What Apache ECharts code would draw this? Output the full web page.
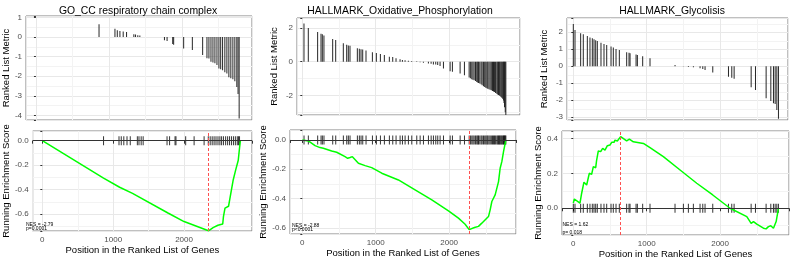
<!DOCTYPE html>
<html>
<head>
<meta charset="utf-8">
<script src="https://cdn.jsdelivr.net/npm/echarts@6/dist/echarts.min.js"></script>
<style>
html, body { margin: 0; padding: 0; background: #fff; }
#root { width: 796px; height: 260px; }
</style>
</head>
<body>
<div id="root"></div>
<script>
// GO_CC respiratory chain complex
const goHits = [864, 1082, 1114, 1150, 1195, 1241, 1341, 1364, 1395, 1423, 1760, 1796, 1873, 1886, 2023, 2142,
  2283, 2342, 2369, 2397, 2424, 2451, 2479, 2506, 2530, 2556, 2587, 2615, 2642, 2669, 2697, 2724, 2751, 2768, 2783];
const goMetric = [0.65, 0.42, 0.35, 0.30, 0.28, 0.25, 0.14, 0.13, 0.09, 0.08, -0.17, -0.20, -0.36, -0.40, -0.58, -0.66,
  -0.92, -1.08, -1.10, -1.26, -1.30, -1.34, -1.43, -1.60, -1.65, -1.70, -1.80, -1.86, -2.05, -2.10, -2.15, -2.25, -2.55, -2.90, -4.15];
const goEsX = [0, 864, 1091, 1273, 1773, 2000, 2345, 2355, 2410, 2478, 2546, 2556, 2578, 2628, 2642, 2660, 2692, 2728, 2765, 2783, 2795];
const goEsY = [0, -0.305, -0.38, -0.43, -0.59, -0.66, -0.735, -0.725, -0.71, -0.69, -0.68, -0.62, -0.55, -0.535, -0.49, -0.43, -0.325, -0.24, -0.16, -0.06, 0];
const goPeak = 2345;

// HALLMARK_Oxidative_Phosphorylation
const oxHits = [23, 82, 209, 255, 273, 295, 414, 455, 559, 605, 627, 650, 750, 777, 800, 823, 868, 955, 1009, 1064,
  1118, 1186, 1232, 1277, 1332, 1364, 1400, 1445, 1491, 1559, 1605, 1650, 1718, 1755, 1786, 1818, 1845, 1877, 1923, 2014,
  2045, 2150, 2209, 2273, 2290, 2309, 2325, 2341, 2360, 2377, 2390, 2400, 2418, 2436, 2450, 2468, 2485, 2500, 2515, 2527,
  2543, 2559, 2575, 2591, 2605, 2618, 2633, 2650, 2662, 2673, 2685, 2695, 2707, 2718, 2730, 2741, 2748, 2755, 2765, 2773];
const oxMetric = [2.26, 2.0, 1.76, 1.66, 1.62, 1.56, 1.34, 1.28, 1.1, 1.0, 0.96, 0.94, 0.8, 0.76, 0.74, 0.72, 0.66, 0.56, 0.52, 0.46,
  0.4, 0.3, 0.28, 0.2, 0.14, 0.1, 0.08, 0.06, 0.04, 0.02, -0.04, -0.06, -0.1, -0.12, -0.16, -0.17, -0.2, -0.26, -0.4, -0.56,
  -0.6, -0.7, -0.8, -0.94, -0.98, -1.04, -1.07, -1.1, -1.15, -1.2, -1.23, -1.26, -1.3, -1.34, -1.4, -1.46, -1.5, -1.54, -1.57, -1.6,
  -1.63, -1.66, -1.7, -1.74, -1.77, -1.8, -1.85, -1.9, -1.94, -1.98, -2.01, -2.04, -2.09, -2.14, -2.2, -2.3, -2.45, -2.7, -3.0, -3.4];
const oxEsX = [0, 82, 173, 241, 286, 309, 400, 468, 582, 618, 650, 682, 764, 855, 945, 1082, 1309, 1536, 1764, 1991,
  2127, 2218, 2273, 2345, 2400, 2445, 2536, 2559, 2582, 2627, 2673, 2695, 2718, 2741, 2773];
const oxEsY = [0, -0.007, -0.039, -0.052, -0.057, -0.045, -0.075, -0.084, -0.114, -0.125, -0.12, -0.114, -0.159, -0.175, -0.189, -0.227, -0.273, -0.341, -0.409, -0.484,
  -0.534, -0.575, -0.612, -0.598, -0.59, -0.568, -0.523, -0.477, -0.42, -0.375, -0.284, -0.193, -0.148, -0.08, 0];
const oxPeak = 2273;

// HALLMARK_Glycolisis
const glHits = [0, 23, 100, 136, 191, 227, 259, 282, 305, 327, 377, 418, 455, 514, 545, 582, 627, 727, 759, 773,
  855, 873, 945, 1045, 1386, 1500, 1568, 1636, 1727, 1764, 1795, 1900, 2114, 2159, 2191, 2423, 2482, 2627, 2691, 2727, 2750, 2773, 2795];
const glMetric = [2.49, 2.14, 1.94, 1.88, 1.78, 1.70, 1.65, 1.59, 1.53, 1.49, 1.39, 1.31, 1.25, 1.16, 1.10, 1.02, 0.96, 0.82, 0.80, 0.76,
  0.69, 0.67, 0.59, 0.47, 0.08, -0.02, -0.04, -0.06, -0.12, -0.16, -0.22, -0.37, -0.61, -0.67, -0.73, -1.24, -1.39, -1.88, -2.04, -2.18, -2.22, -2.57, -3.08];
const glEsX = [0, 14, 91, 114, 145, 182, 218, 250, 273, 305, 318, 341, 373, 400, 432, 464, 500, 523, 555, 568,
  600, 627, 645, 727, 764, 818, 955, 1045, 1227, 1455, 1682, 1900, 2136, 2364, 2423, 2455, 2500, 2591, 2627, 2659, 2691, 2727, 2764, 2795];
const glEsY = [0.03, 0.053, 0.029, 0.086, 0.149, 0.133, 0.2, 0.194, 0.238, 0.232, 0.276, 0.328, 0.324, 0.343, 0.333, 0.358, 0.362, 0.377, 0.377, 0.39,
  0.385, 0.396, 0.41, 0.385, 0.396, 0.38, 0.371, 0.347, 0.295, 0.219, 0.143, 0.076, 0, -0.048, -0.086, -0.076, -0.091, -0.114, -0.118, -0.105, -0.1, -0.114, -0.076, 0];
const glPeak = 645;

const titles = ['GO_CC respiratory chain complex', 'HALLMARK_Oxidative_Phosphorylation', 'HALLMARK_Glycolisis'];
const nesText = ['NES = -2.79', 'NES = -2.88', 'NES = 1.62'];
const pText = ['p=0.0001', 'p<0.0001', 'p= 0.018'];

const FONT = '"Liberation Sans", Arial, Helvetica, sans-serif';

// panel boxes in px and axis ranges
const panels = [
  {
    hits: goHits, metric: goMetric, esX: goEsX, esY: goEsY, peak: goPeak, titleX: 138, nes: [26, 224.5, 229],
    top: { l: 25, t: 16, r: 252, b: 120, x: [-136, 2959], y: [-4.23, 1.07], split: 5, step: 1, dec: 0, gap: 15 },
    bot: { l: 25, t: 131, r: 252, b: 231, x: [-136, 2959], y: [-0.737, 0.079], split: 4, step: 0.2, dec: 1, gap: 15 }
  },
  {
    hits: oxHits, metric: oxMetric, esX: oxEsX, esY: oxEsY, peak: oxPeak, titleX: 400, nes: [292, 225.3, 229.3],
    top: { l: 297, t: 18, r: 520, b: 115, x: [-72, 2966], y: [-3.16, 2.59], split: 3, step: 2, dec: 0, gap: 18 },
    bot: { l: 290, t: 130, r: 516, b: 234, x: [-168, 2911], y: [-0.642, 0.068], split: 4, step: 0.2, dec: 1, gap: 15 }
  },
  {
    hits: glHits, metric: glMetric, esX: glEsX, esY: glEsY, peak: glPeak, titleX: 672, nes: [562.5, 225, 232.5],
    top: { l: 567, t: 18, r: 788, b: 120, x: [-86, 2925], y: [-3.16, 2.84], split: 6, step: 1, dec: 0, gap: 18 },
    bot: { l: 562, t: 131, r: 789, b: 235, x: [-154, 2939], y: [-0.153, 0.442], split: 3, step: 0.2, dec: 1, gap: 14 }
  }
];

function onStep(step, dec) {
  return function (v) {
    const k = v / step;
    if (Math.abs(k - Math.round(k)) > 1e-6) return '';
    return (Math.round(k) * step).toFixed(dec);
  };
}

const grid = [], xAxis = [], yAxis = [], series = [], graphic = [];

const splitLine = { show: true, lineStyle: { color: '#e8e8e8', width: 1 } };
const minorSplitLine = { show: true, lineStyle: { color: '#f3f3f3', width: 1 } };
const labelStyle = { fontSize: 8, color: '#4d4d4d', fontFamily: FONT };
const nameStyle = { fontSize: 9.5, color: '#000', fontFamily: FONT };

panels.forEach(function (p, i) {
  [p.top, p.bot].forEach(function (b, j) {
    grid.push({
      left: b.l, top: b.t, width: b.r - b.l, height: b.b - b.t,
      show: true, borderColor: '#808080', borderWidth: 1, backgroundColor: '#fff'
    });
    const isBot = j === 1;
    xAxis.push({
      type: 'value', gridIndex: 2 * i + j, min: b.x[0], max: b.x[1], splitNumber: 3,
      axisLine: { show: false },
      axisTick: { show: isBot, length: 3, lineStyle: { color: '#333' } },
      axisLabel: Object.assign({ show: isBot, margin: 5, formatter: onStep(1000, 0) }, labelStyle),
      splitLine: splitLine,
      minorTick: { show: false, splitNumber: 2 },
      minorSplitLine: minorSplitLine,
      name: isBot ? 'Position in the Ranked List of Genes' : '',
      nameLocation: 'middle', nameGap: 14, nameTextStyle: nameStyle
    });
    yAxis.push({
      type: 'value', gridIndex: 2 * i + j, min: b.y[0], max: b.y[1], splitNumber: b.split,
      axisLine: { show: false },
      axisTick: { show: true, length: 2, lineStyle: { color: '#333' } },
      axisLabel: Object.assign({ margin: 4, formatter: onStep(b.step, b.dec) }, labelStyle),
      splitLine: splitLine,
      minorTick: { show: false, splitNumber: 2 },
      minorSplitLine: minorSplitLine,
      name: isBot ? 'Running Enrichment Score' : 'Ranked List Metric',
      nameLocation: 'middle', nameGap: b.gap, nameTextStyle: nameStyle
    });
  });

  series.push({
    type: 'bar', xAxisIndex: 2 * i, yAxisIndex: 2 * i, barWidth: 1,
    itemStyle: { color: '#262626' }, silent: true,
    data: p.hits.map(function (g, k) { return [g, p.metric[k]]; })
  });
  series.push({
    type: 'scatter', xAxisIndex: 2 * i + 1, yAxisIndex: 2 * i + 1,
    symbol: 'rect', symbolSize: [1, 9], itemStyle: { color: '#000' }, silent: true, z: 2,
    data: p.hits.map(function (g) { return [g, 0]; }),
    markLine: {
      silent: true, symbol: ['none', 'none'], label: { show: false },
      lineStyle: { color: '#333', width: 1, type: 'solid' },
      data: [{ yAxis: 0 }]
    }
  });
  series.push({
    type: 'line', xAxisIndex: 2 * i + 1, yAxisIndex: 2 * i + 1,
    showSymbol: false, symbol: 'none', silent: true, z: 3,
    lineStyle: { color: '#00ff00', width: 1.5 },
    data: p.esX.map(function (x, k) { return [x, p.esY[k]]; }),
    markLine: {
      silent: true, symbol: ['none', 'none'], label: { show: false },
      lineStyle: { color: '#ff5050', width: 1, type: [3, 2] },
      data: [{ xAxis: p.peak }]
    }
  });

  graphic.push({
    type: 'text', x: p.titleX, y: 11,
    style: { text: titles[i], font: '10.4px ' + FONT, fill: '#000', textAlign: 'center', textVerticalAlign: 'middle' }
  });
  graphic.push({
    type: 'text', x: p.nes[0], y: p.nes[1], z: 10,
    style: { text: nesText[i], font: '5px ' + FONT, fill: '#000', textAlign: 'left', textVerticalAlign: 'middle' }
  });
  graphic.push({
    type: 'text', x: p.nes[0], y: p.nes[2], z: 10,
    style: { text: pText[i], font: '5px ' + FONT, fill: '#000', textAlign: 'left', textVerticalAlign: 'middle' }
  });
});

const chart = echarts.init(document.getElementById('root'));
chart.setOption({
  animation: false,
  backgroundColor: '#fff',
  grid: grid,
  xAxis: xAxis,
  yAxis: yAxis,
  series: series,
  graphic: graphic
});
</script>
</body>
</html>
